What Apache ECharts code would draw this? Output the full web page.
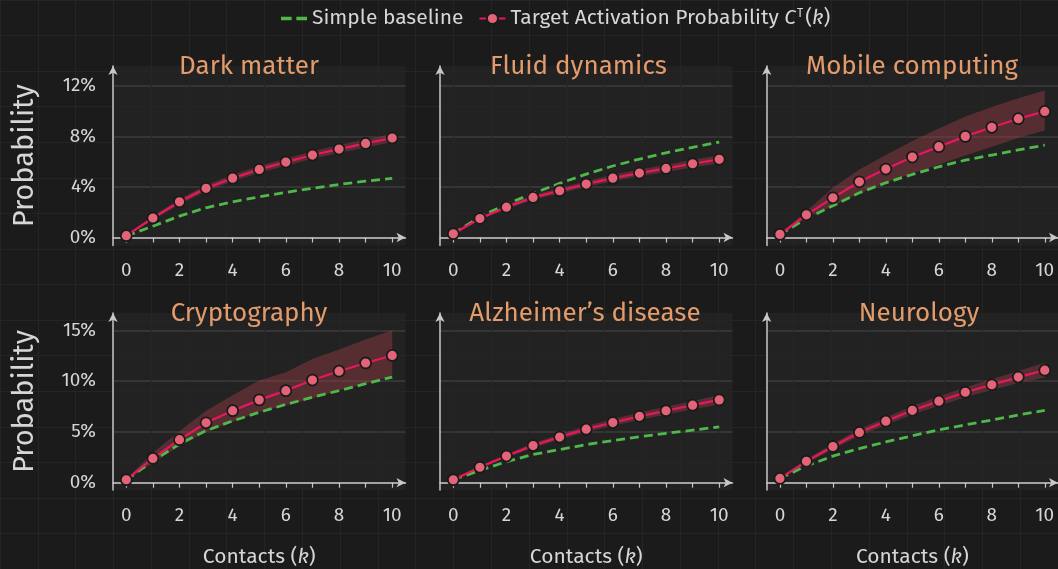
<!DOCTYPE html>
<html>
<head>
<meta charset="utf-8">
<script src="https://cdn.jsdelivr.net/npm/echarts@6/dist/echarts.min.js"></script>
<style>
html,body{margin:0;padding:0;background:#1b1b1b;}
#chart{width:1058px;height:569px;}
</style>
</head>
<body>
<div id="chart"></div>
<script>
// ---------- data ----------
const ks = [0,1,2,3,4,5,6,7,8,9,10];
const panelTitles = ['Dark matter','Fluid dynamics','Mobile computing','Cryptography','Alzheimer\u2019s disease','Neurology'];
const yTicksRow1 = [0,4,8,12];
const yTicksRow2 = [0,5,10,15];

const darkTarget   = [0.15,1.55,2.83,3.90,4.71,5.40,5.98,6.54,7.01,7.46,7.89];
const darkUpper    = [0.20,1.70,3.05,4.15,4.97,5.67,6.27,6.85,7.33,7.80,8.20];
const darkLower    = [0.10,1.40,2.62,3.67,4.46,5.14,5.70,6.24,6.70,7.13,7.58];
const darkBase     = [0.12,0.90,1.70,2.36,2.83,3.23,3.58,3.90,4.21,4.47,4.69];

const fluidTarget  = [0.30,1.51,2.41,3.18,3.71,4.24,4.71,5.11,5.48,5.85,6.20];
const fluidUpper   = [0.35,1.62,2.57,3.37,3.93,4.47,4.97,5.39,5.78,6.17,6.53];
const fluidLower   = [0.25,1.40,2.26,3.00,3.50,4.02,4.47,4.85,5.20,5.55,5.88];
const fluidBase    = [0.30,1.65,2.65,3.50,4.29,5.03,5.67,6.22,6.72,7.15,7.57];

const mobileTarget = [0.25,1.80,3.15,4.42,5.43,6.38,7.20,8.02,8.74,9.42,10.00];
const mobileUpper  = [0.30,2.10,3.95,5.40,6.55,7.65,8.65,9.60,10.35,11.05,11.65];
const mobileLower  = [0.20,1.55,2.50,3.50,4.35,5.10,5.80,6.50,7.20,7.90,8.50];
const mobileBase   = [0.25,1.50,2.52,3.55,4.34,5.00,5.61,6.14,6.54,6.94,7.33];

const cryptoTarget = [0.29,2.39,4.23,5.89,7.09,8.15,9.06,10.10,10.97,11.78,12.52];
const cryptoUpper  = [0.35,2.94,5.05,7.08,8.60,10.06,10.87,12.17,13.10,14.10,15.00];
const cryptoLower  = [0.23,1.97,3.59,4.98,6.00,6.99,7.63,8.28,9.09,9.74,10.49];
const cryptoBase   = [0.29,2.13,3.81,5.11,6.08,6.92,7.70,8.41,9.06,9.74,10.39];

const alzTarget    = [0.29,1.52,2.62,3.65,4.49,5.27,5.92,6.53,7.08,7.63,8.15];
const alzUpper     = [0.34,1.65,2.80,3.88,4.76,5.57,6.26,6.90,7.47,8.04,8.60];
const alzLower     = [0.24,1.40,2.45,3.44,4.24,4.98,5.60,6.18,6.70,7.23,7.70];
const alzBase      = [0.29,1.20,2.07,2.78,3.26,3.75,4.14,4.52,4.85,5.17,5.50];

const neuroTarget  = [0.42,2.10,3.56,4.95,6.05,7.12,8.02,8.90,9.64,10.39,11.07];
const neuroUpper   = [0.48,2.30,3.83,5.28,6.42,7.54,8.48,9.40,10.18,10.98,11.80];
const neuroLower   = [0.36,1.90,3.30,4.63,5.68,6.72,7.58,8.42,9.12,9.82,10.35];
const neuroBase    = [0.42,1.65,2.62,3.36,4.01,4.62,5.20,5.69,6.17,6.66,7.12];

// ---------- build ----------
const panels = [
  {target: darkTarget,   upper: darkUpper,   lower: darkLower,   base: darkBase},
  {target: fluidTarget,  upper: fluidUpper,  lower: fluidLower,  base: fluidBase},
  {target: mobileTarget, upper: mobileUpper, lower: mobileLower, base: mobileBase},
  {target: cryptoTarget, upper: cryptoUpper, lower: cryptoLower, base: cryptoBase},
  {target: alzTarget,    upper: alzUpper,    lower: alzLower,    base: alzBase},
  {target: neuroTarget,  upper: neuroUpper,  lower: neuroLower,  base: neuroBase}
];

const FONT = "'Fira Sans','Open Sans','Noto Sans',sans-serif";
const BASE_NAME = 'Simple baseline';
const TARGET_NAME = 'Target Activation Probability';
const TEXT = '#d6d6d6';
const AXIS = '#c8c8c8';
const GREEN = '#4fb84a';

const lefts = [113, 440, 766.7];
const tops = [66, 313];
const W = 292.5, H = 179.6;
const titleCenters = [249, 578.5, 912, 249, 585, 919];
const yRanges = [[-0.64, 13.6], [-0.72, 16.7]];
const yTicks = [yTicksRow1, yTicksRow2];

const grids = [], xAxes = [], yAxes = [], series = [], titles = [];

// background checker grid
grids.push({left: 0, top: -8.5, width: 37.8*28, height: 37.8*16, show: false});
xAxes.push({type:'value', gridIndex:0, min:0, max:28, interval:1, show:true,
  axisLine:{show:false}, axisTick:{show:false}, axisLabel:{show:false},
  splitLine:{show:true, lineStyle:{color:'#252525', width:1}}});
yAxes.push({type:'value', gridIndex:0, min:0, max:16, interval:1, show:true,
  axisLine:{show:false}, axisTick:{show:false}, axisLabel:{show:false},
  splitLine:{show:true, lineStyle:{color:'#252525', width:1}}});

panels.forEach((p, i) => {
  const row = Math.floor(i / 3), col = i % 3;
  const gi = i + 1;
  grids.push({left: lefts[col], top: tops[row], width: W, height: H,
    show: true, backgroundColor: '#222222', borderWidth: 0});
  xAxes.push({
    type: 'category', gridIndex: gi, data: ks.map(String), boundaryGap: true,
    axisLine: {show: true, lineStyle: {color: AXIS, width: 1.5}, symbol: ['none','arrow'], symbolSize: [7, 9], symbolOffset: [0, 0]},
    axisTick: {show: true, alignWithLabel: true, interval: 0, length: 5, lineStyle: {color: AXIS, width: 1.2}},
    axisLabel: {show: true, interval: 1, color: TEXT, fontSize: 19, fontFamily: FONT, margin: 16},
    splitLine: {show: false},
    name: row === 1 ? 'Contacts ({i|k})' : '',
    nameLocation: 'middle', nameGap: 57,
    nameTextStyle: {color: TEXT, fontSize: 21, fontFamily: FONT,
      rich: {i: {fontStyle: 'italic', fontSize: 21, color: TEXT, fontFamily: FONT}}}
  });
  yAxes.push({
    type: 'value', gridIndex: gi, min: yRanges[row][0], max: yRanges[row][1],
    axisLine: {show: true, lineStyle: {color: AXIS, width: 1.5}, symbol: ['none','arrow'], symbolSize: [7, 9]},
    axisTick: {show: false, customValues: yTicks[row]},
    axisLabel: {show: col === 0, customValues: yTicks[row], color: TEXT, fontSize: 19, fontFamily: FONT, margin: 17,
      formatter: v => v + '%'},
    splitLine: {show: true, lineStyle: {color: '#3c3c3c', width: 1.5}},
    name: col === 0 ? 'Probability' : '',
    nameLocation: 'middle', nameGap: 74,
    nameTextStyle: {color: TEXT, fontSize: 29, fontFamily: FONT}
  });
  titles.push({
    text: panelTitles[i], left: titleCenters[i], top: tops[row] - 12, textAlign: 'center', padding: 0,
    textStyle: {color: '#e39b6b', fontSize: 26, fontWeight: 'normal', fontFamily: FONT}
  });
  const stackId = 'band' + i;
  series.push({
    type: 'line', xAxisIndex: gi, yAxisIndex: gi, stack: stackId, silent: true,
    data: p.lower, symbol: 'none', lineStyle: {opacity: 0}, z: 1
  });
  series.push({
    type: 'line', xAxisIndex: gi, yAxisIndex: gi, stack: stackId, silent: true,
    data: p.upper.map((u, j) => +(u - p.lower[j]).toFixed(4)), symbol: 'none',
    lineStyle: {opacity: 0}, areaStyle: {color: 'rgba(150,62,72,0.45)', opacity: 1}, z: 1
  });
  series.push({
    name: BASE_NAME, type: 'line', xAxisIndex: gi, yAxisIndex: gi, data: p.base,
    symbol: 'none', lineStyle: {color: GREEN, width: 2.8, type: [9, 5]}, itemStyle: {color: GREEN}, z: 3
  });
  series.push({
    name: TARGET_NAME, type: 'line', xAxisIndex: gi, yAxisIndex: gi, data: p.target,
    symbol: 'circle', symbolSize: 11, showSymbol: true,
    lineStyle: {color: '#e8175d', width: 2.2},
    itemStyle: {color: '#e46477', borderColor: '#1a1a1a', borderWidth: 1.8}, z: 4
  });
});

const chart = echarts.init(document.getElementById('chart'), null, {renderer: 'canvas'});
chart.setOption({
  backgroundColor: '#1b1b1b',
  animation: false,
  title: titles,
  legend: {
    top: 3, left: 276, itemWidth: 26, itemHeight: 14, itemGap: 15,
    data: [
      {name: BASE_NAME, icon: 'path://M0,0 H9 V3 H0 Z M13,0 H22 V3 H13 Z', itemStyle: {color: GREEN}},
      {name: TARGET_NAME}
    ],
    textStyle: {color: TEXT, fontSize: 21, fontFamily: FONT,
      rich: {
        n: {color: TEXT, fontSize: 21, fontFamily: FONT},
        i: {color: TEXT, fontSize: 21, fontStyle: 'italic', fontFamily: FONT},
        s: {color: TEXT, fontSize: 12, fontFamily: FONT, verticalAlign: 'top', padding: [0, 2, 0, 1]}
      }},
    formatter: name => name === TARGET_NAME ? '{n|Target Activation Probability }{i|C}{s|T}{n|(}{i|k}{n|)}' : name
  },
  grid: grids,
  xAxis: xAxes,
  yAxis: yAxes,
  series: series
});
</script>
</body>
</html>
